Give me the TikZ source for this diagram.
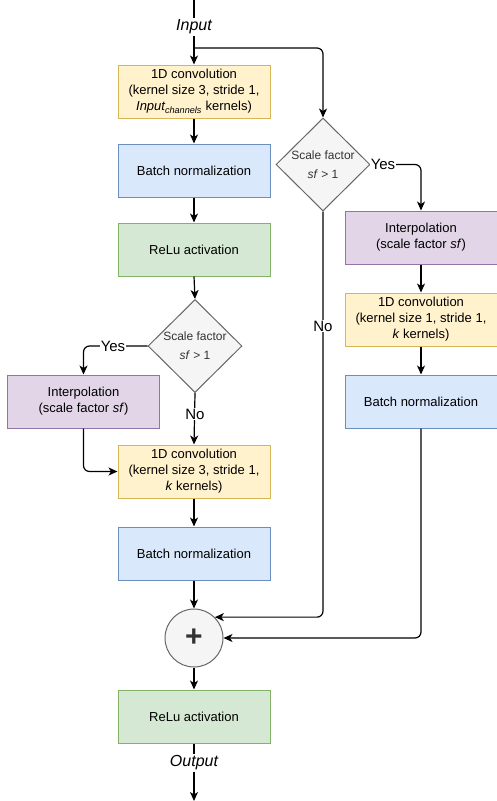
\documentclass[tikz,border=0pt]{standalone}
\usepackage{fontspec}
\setmainfont{Liberation Sans}
\usetikzlibrary{shapes.geometric,arrows.meta}
\definecolor{yfill}{HTML}{FFF2CC}\definecolor{ydraw}{HTML}{D6B656}
\definecolor{bfill}{HTML}{DAE8FC}\definecolor{bdraw}{HTML}{6C8EBF}
\definecolor{gfill}{HTML}{D5E8D4}\definecolor{gdraw}{HTML}{82B366}
\definecolor{pfill}{HTML}{E1D5E7}\definecolor{pdraw}{HTML}{9673A6}
\definecolor{dfill}{HTML}{F5F5F5}\definecolor{ddraw}{HTML}{666666}
\definecolor{dtext}{HTML}{333333}
\tikzset{
  box/.style={rectangle, minimum width=152pt, minimum height=53pt, inner sep=0pt, line width=1pt, align=center, font=\fontsize{13}{16}\selectfont},
  yel/.style={box, fill=yfill, draw=ydraw},
  blu/.style={box, fill=bfill, draw=bdraw},
  grn/.style={box, fill=gfill, draw=gdraw},
  pur/.style={box, fill=pfill, draw=pdraw},
  dia/.style={diamond, aspect=1, minimum width=94pt, minimum height=93pt, inner sep=0pt, fill=dfill, draw=ddraw, line width=1pt, align=center, text=dtext, font=\fontsize{12}{19}\selectfont},
  lbl/.style={fill=white, inner sep=1pt, font=\fontsize{15}{15}\selectfont},
  io/.style={inner sep=2pt, font=\fontsize{16}{16}\selectfont\itshape},
  conn/.style={line width=1.2pt, rounded corners=6pt},
  arr/.style={conn, -{Stealth[length=9pt,width=8pt,inset=2.5pt]}}
}
\begin{document}
\begin{tikzpicture}[x=1pt,y=-1pt]
\useasboundingbox (0,0) rectangle (496,801);
% left column
\coordinate (top) at (194,0);
\node[io] (in) at (194,27) {Input};
\node[yel] (c1) at (194,91.5) {1D convolution\\(kernel size 3, stride 1,\\\textit{Input\textsubscript{channels}} kernels)};
\node[blu] (b1) at (194,170.5) {Batch normalization};
\node[grn] (r1) at (194,249.5) {ReLu activation};
\node[dia] (d2) at (195,346) {Scale factor\\\textit{sf} > 1};
\node[pur] (i2) at (83.5,401.5) {Interpolation\\(scale factor \textit{sf})};
\node[yel] (c2) at (194,471.5) {1D convolution\\(kernel size 3, stride 1,\\\textit{k} kernels)};
\node[blu] (b2) at (194,553.5) {Batch normalization};
\node[circle, minimum size=58pt, inner sep=0pt, fill=dfill, draw=ddraw, line width=1pt, text=dtext, font=\fontsize{30}{30}\selectfont\bfseries] (p) at (194,638) {+};
\node[grn] (r2) at (194,716.5) {ReLu activation};
\node[io] (out) at (194,763) {Output};
\coordinate (end) at (194,801);
% right column
\node[dia] (d1) at (323,164.5) {Scale factor\\\textit{sf} > 1};
\node[pur] (i1) at (421,237.5) {Interpolation\\(scale factor \textit{sf})};
\node[yel] (c3) at (421,319.5) {1D convolution\\(kernel size 1, stride 1,\\\textit{k} kernels)};
\node[blu] (b3) at (421,401.5) {Batch normalization};
\coordinate (br) at (194,48);
% connectors
\draw[conn] (top) -- (in.north);
\draw[arr] (in.south) -- (c1.north);
\draw[arr] (br) -| (d1.north);
\draw[arr] (c1.south) -- (b1.north);
\draw[arr] (b1.south) -- (r1.north);
\draw[arr] (r1.south) -- (d2.north);
\draw[arr] (d2.west) -| (i2.north);
\node[lbl] (yes2) at (113,346) {Yes};
\draw[arr] (d2.south) -- (c2.north);
\node[lbl] (no2) at (195,414) {No};
\draw[arr] (i2.south) |- (c2.west);
\draw[arr] (c2.south) -- (b2.north);
\draw[arr] (b2.south) -- (p.north);
\draw[arr] (p.south) -- (r2.north);
\draw[conn] (r2.south) -- (out.north);
\draw[arr] (out.south) -- (end);
\draw[arr] (d1.east) -| (i1.north);
\node[lbl] (yes1) at (383,164.5) {Yes};
\draw[arr] (i1.south) -- (c3.north);
\draw[arr] (c3.south) -- (b3.north);
\draw[arr] (d1.south) |- (p.45);
\node[lbl] (no1) at (323,326) {No};
\draw[arr] (b3.south) |- (p.east);
\end{tikzpicture}
\end{document}
